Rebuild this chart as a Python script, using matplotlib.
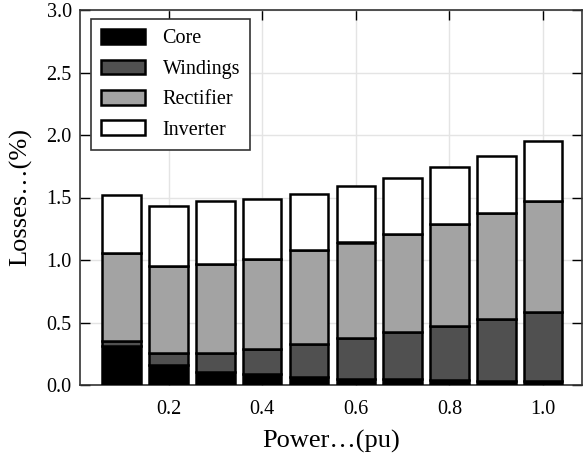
import matplotlib
matplotlib.use("Agg")
import matplotlib.pyplot as plt

# loss breakdown per operating point (stacked: core, windings, rectifier, inverter)
power = [0.1, 0.2, 0.3, 0.4, 0.5, 0.6, 0.7, 0.8, 0.9, 1.0]
core = [0.31, 0.16, 0.105, 0.085, 0.065, 0.05, 0.045, 0.04, 0.035, 0.03]
windings = [0.04, 0.10, 0.155, 0.205, 0.265, 0.325, 0.38, 0.435, 0.495, 0.555]
rectifier = [0.71, 0.695, 0.705, 0.72, 0.75, 0.765, 0.785, 0.815, 0.845, 0.885]
inverter = [0.46, 0.475, 0.505, 0.48, 0.45, 0.455, 0.45, 0.455, 0.46, 0.48]

labels = ["Core", "Windings", "Rectifier", "Inverter"]
colors = ["#000000", "#505050", "#a3a3a3", "#ffffff"]
xticks = [0.2, 0.4, 0.6, 0.8, 1.0]
yticks = [0.0, 0.5, 1.0, 1.5, 2.0, 2.5, 3.0]

plt.rcParams["font.family"] = ["Liberation Serif", "DejaVu Serif"]

fig = plt.figure(figsize=(5.84, 4.55), dpi=100)
ax = fig.add_axes([80 / 584, 70 / 455, 502 / 584, 375 / 455])

bottom = [0.0] * len(power)
for vals, lab, col in zip([core, windings, rectifier, inverter], labels, colors):
    ax.bar(power, vals, width=0.082, bottom=bottom, color=col,
           edgecolor="black", linewidth=1.8, label=lab, zorder=3)
    bottom = [b + v for b, v in zip(bottom, vals)]

ax.set_xlim(0.011, 1.083)
ax.set_ylim(0, 3.0)
ax.set_xticks(xticks)
ax.set_xticklabels([f"{t:.1f}" for t in xticks])
ax.set_yticks(yticks)
ax.set_yticklabels([f"{t:.1f}" for t in yticks])
ax.tick_params(direction="in", length=7, width=1, labelsize=14.5,
               top=True, right=True, pad=6)
ax.tick_params(axis="x", pad=11)
ax.grid(True, color="#e4e4e4", linewidth=1, zorder=0)
for s in ax.spines.values():
    s.set_linewidth(1.2)
    s.set_color("#333333")

ax.set_xlabel("Power\u2026(pu)", fontsize=19, labelpad=8)
ax.set_ylabel("Losses\u2026(%)", fontsize=19, labelpad=10)

leg = ax.legend(loc="upper left", bbox_to_anchor=(0.022, 0.976), borderaxespad=0,
                fontsize=14.5, fancybox=False, framealpha=1, edgecolor="#333333",
                handlelength=2.2, handleheight=0.75, handletextpad=0.85,
                labelspacing=0.55, borderpad=0.5)
leg.get_frame().set_linewidth(1.2)

fig.savefig("out.png", dpi=100)
